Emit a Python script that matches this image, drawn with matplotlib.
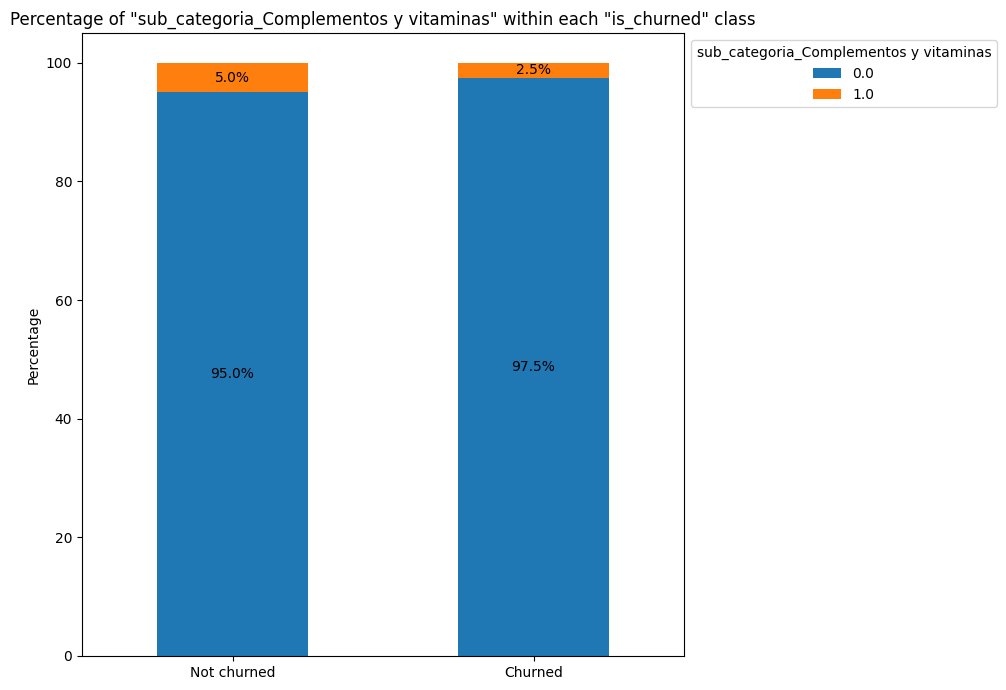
import numpy as np
import matplotlib.pyplot as plt

# Data
classes = ['Not churned', 'Churned']
levels = ['0.0', '1.0']
pct_0 = [95.0, 97.5]
pct_1 = [5.0, 2.5]
series = [pct_0, pct_1]
colors = ['#1f77b4', '#ff7f0e']

fig = plt.figure(figsize=(10.06, 6.9), dpi=100)
ax = fig.add_axes([0.0815, 0.0493, 0.5985, 0.9027])

x = np.arange(len(classes))
bottom = np.zeros(len(classes))
for lvl, vals, c in zip(levels, series, colors):
    bars = ax.bar(x, vals, 0.5, bottom=bottom, color=c, label=lvl)
    ax.bar_label(bars, labels=[f'{v:.1f}%' for v in vals], label_type='center')
    bottom += np.array(vals)

ax.set_xticks(x)
ax.set_xticklabels(classes)
ax.set_xlim(-0.5, 1.5)
ax.set_ylim(0, 105)
ax.set_ylabel('Percentage')
ax.set_title('Percentage of "sub_categoria_Complementos y vitaminas" within each "is_churned" class')
ax.legend(title='sub_categoria_Complementos y vitaminas', loc='upper left', bbox_to_anchor=(1, 1))

fig.savefig('out.png', dpi=100)
